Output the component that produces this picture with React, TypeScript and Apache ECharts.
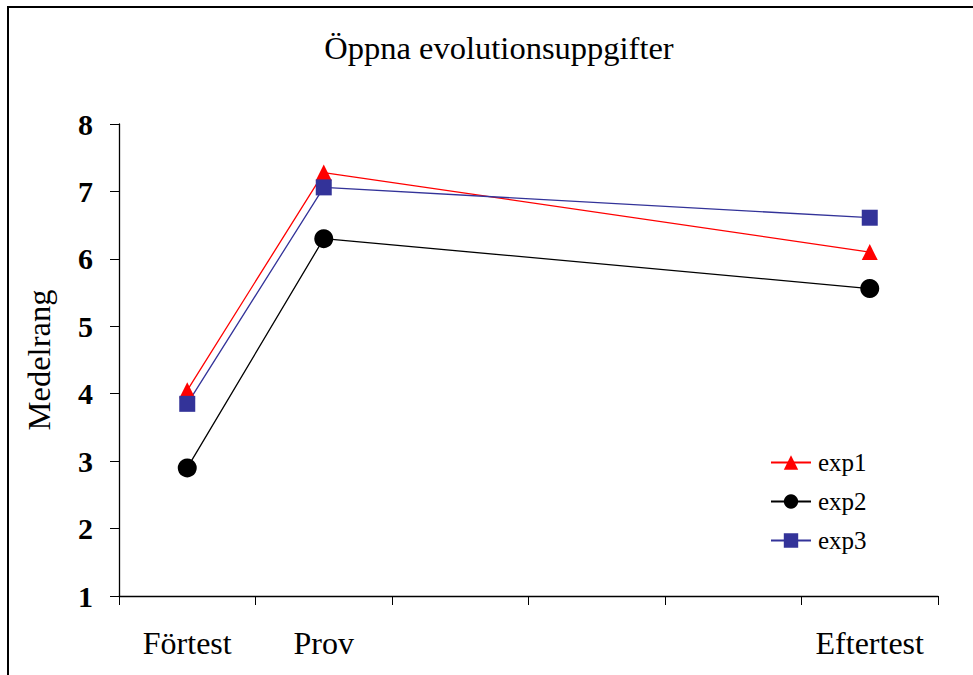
import React, { useEffect, useRef } from "react";
import * as echarts from "echarts";

const categories = ["Förtest", "Prov", "", "", "", "Eftertest"];
const exp1 = [4.05, 7.28, null, null, null, 6.1];
const exp2 = [2.9, 6.3, null, null, null, 5.56];
const exp3 = [3.85, 7.06, null, null, null, 6.61];
const seriesNames = ["exp1", "exp2", "exp3"];
const titleText = "Öppna evolutionsuppgifter";
const yName = "Medelrang";

const FONT = "'Liberation Serif', 'Times New Roman', serif";

export default function App() {
  const ref = useRef<HTMLDivElement>(null);
  useEffect(() => {
    if (!ref.current) return;
    const chart = echarts.init(ref.current, undefined, { renderer: "svg" });
    const mk = (name: string, data: (number | null)[], color: string, symbol: string, size: number) => ({
      name,
      type: "line",
      data,
      connectNulls: true,
      symbol,
      symbolSize: size,
      showAllSymbol: true,
      lineStyle: { color, width: 1.3 },
      itemStyle: { color, borderWidth: 0 },
      emphasis: { disabled: true },
    });
    chart.setOption({
      animation: false,
      backgroundColor: "#ffffff",
      textStyle: { fontFamily: FONT },
      title: {
        text: titleText,
        left: 494,
        textAlign: "center",
        top: 26,
        textStyle: { fontFamily: FONT, fontSize: 32.5, fontWeight: "normal", color: "#000" },
      },
      graphic: [
        {
          type: "rect",
          shape: { x: 8, y: 7, width: 1000, height: 700 },
          style: { fill: "none", stroke: "#000", lineWidth: 2 },
          silent: true,
        },
      ],
      legend: {
        orient: "vertical",
        left: 765,
        top: 445,
        itemWidth: 40,
        itemHeight: 18,
        itemGap: 14,
        data: seriesNames,
        textStyle: { fontFamily: FONT, fontSize: 25, color: "#000", padding: [0, 0, 0, 2] },
      },
      grid: { left: 119, right: 35, top: 124, bottom: 79 },
      xAxis: {
        type: "category",
        data: categories,
        boundaryGap: true,
        axisLine: { lineStyle: { color: "#000", width: 1.3 } },
        axisTick: { show: true, interval: 0, length: 9, lineStyle: { color: "#000" } },
        axisLabel: { interval: 0, margin: 31, fontFamily: FONT, fontSize: 32, color: "#000" },
      },
      yAxis: {
        type: "value",
        min: 1,
        max: 8,
        interval: 1,
        name: yName,
        nameLocation: "middle",
        nameGap: 64,
        nameTextStyle: { fontFamily: FONT, fontSize: 32.5, color: "#000" },
        splitLine: { show: false },
        axisLine: { show: true, lineStyle: { color: "#000", width: 1.3 } },
        axisTick: { show: true, length: 9, lineStyle: { color: "#000" } },
        axisLabel: { margin: 26, fontFamily: FONT, fontSize: 30, fontWeight: "bold", color: "#000" },
      },
      series: [
        mk(seriesNames[0], exp1, "#ff0000", "triangle", 16),
        mk(seriesNames[1], exp2, "#000000", "circle", 19),
        mk(seriesNames[2], exp3, "#333399", "rect", 16),
      ],
    });
    return () => chart.dispose();
  }, []);
  return (
    <div
      ref={ref}
      style={{ position: "fixed", left: 0, top: 0, width: 973, height: 675, background: "#fff" }}
    />
  );
}
